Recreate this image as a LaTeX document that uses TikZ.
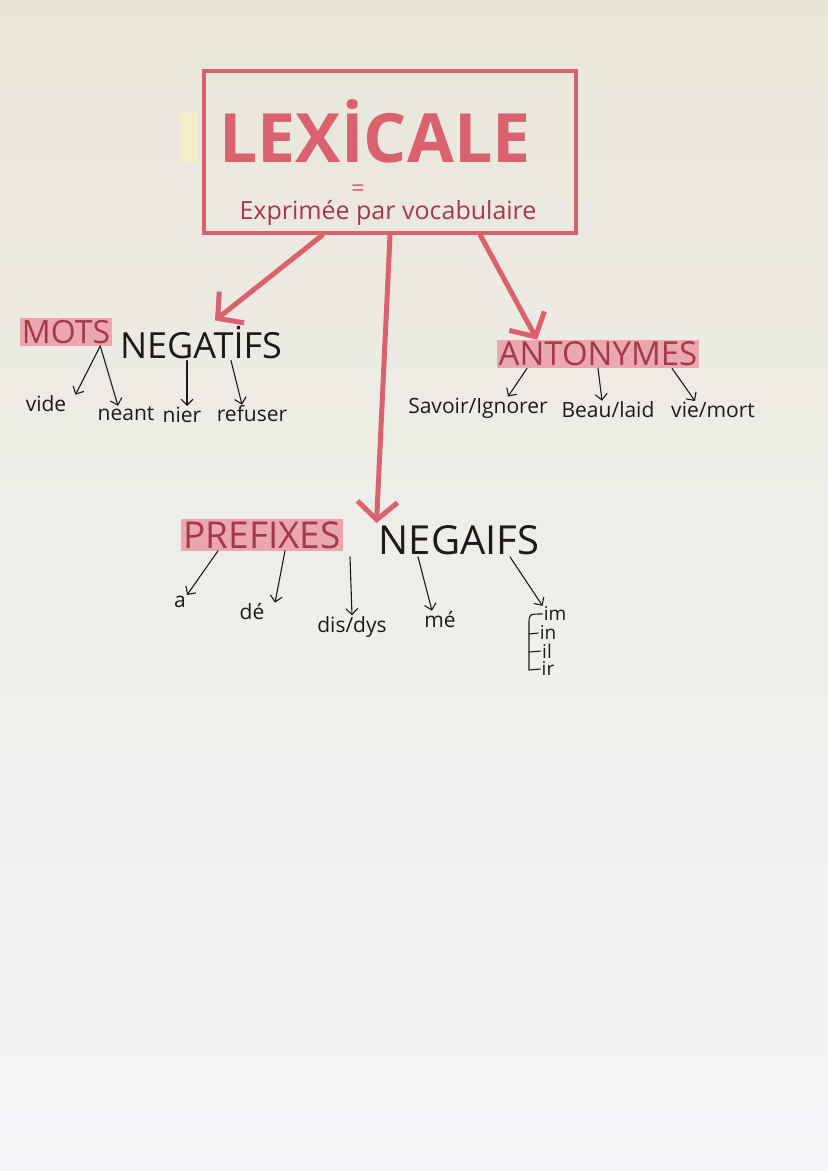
\documentclass[tikz,border=0pt]{standalone}
\usepackage{fontspec}
\setmainfont{Open Sans}
\usepackage{tikz}
\usetikzlibrary{arrows.meta,calc,backgrounds}

\definecolor{stylo}{HTML}{D9626E}
\definecolor{surligne}{HTML}{ECA7AE}
\definecolor{bordeaux}{HTML}{A23A4A}
\definecolor{encre}{HTML}{1E1A1C}
\definecolor{papierhaut}{HTML}{E9E6D9}
\definecolor{papiermilieu}{HTML}{F6F6F3}
\definecolor{papierbas}{HTML}{F4F6F9}
\definecolor{postit}{HTML}{F2EEC8}

\tikzset{
  grosse/.style={draw=stylo, line width=5pt, line cap=round,
    -{Straight Barb[length=18pt,width=40pt]}},
  petite/.style={draw=encre, line width=1.1pt, line cap=round,
    -{Straight Barb[length=6pt,width=12pt]}},
  mot/.style={text=encre, inner sep=1pt, font=\fontsize{21}{23}\selectfont},
  titre/.style={text=encre, inner sep=2pt},
  surl/.style={fill=surligne, text=bordeaux, inner sep=2pt},
}

\begin{document}
\begin{tikzpicture}[x=1pt,y=-1pt]
\fill[top color=papierhaut, middle color=papiermilieu, bottom color=papierbas] (0,0) rectangle (828,1171);
\useasboundingbox (0,0) rectangle (828,1171);
\fill[postit] (180,113) rectangle (198,162);

% le cadre
\node[draw=stylo, line width=4.5pt, minimum width=372pt, minimum height=162pt] (lexbox) at (390,152) {};
\node[text=stylo, inner sep=0pt, font=\fontsize{68}{68}\selectfont\bfseries] (lex) at (375,131) {LEXİCALE};
\node[text=stylo, inner sep=0pt, font=\fontsize{24}{26}\selectfont] (egal) at (358,191) {=};
\node[text=bordeaux, inner sep=0pt, font=\fontsize{25}{28}\selectfont] (expr) at (388,213) {Exprimée par vocabulaire};

% les trois branches
\node[surl, font=\fontsize{32}{34}\selectfont] (mots) at (66,332) {MOTS};
\node[titre, font=\fontsize{36}{38}\selectfont] (motsneg) at (201,342) {NEGATİFS};
\node[surl, font=\fontsize{33}{35}\selectfont] (anto) at (598,354) {ANTONYMES};
\node[surl, font=\fontsize{37}{39}\selectfont] (pref) at (262,535) {PREFIXES};
\node[titre, font=\fontsize{40}{42}\selectfont] (preneg) at (459,540) {NEGAIFS};

\draw[grosse] ($(lexbox.south west)!0.32!(lexbox.south east)$) -- ([xshift=14pt,yshift=3pt]motsneg.north);
\draw[grosse] ($(lexbox.south west)!0.5!(lexbox.south east)$) -- (preneg.north west);
\draw[grosse] ($(lexbox.south west)!0.74!(lexbox.south east)$) -- ($(anto.north west)!0.2!(anto.north east)$);

% mots negatifs
\node[mot] (vide) at (46,404) {vide};
\node[mot] (neant) at (126,414) {neant};
\node[mot] (nier) at (182,415) {nier};
\node[mot] (refuser) at (252,414) {refuser};
\draw[petite] ([xshift=-12pt]mots.south east) -- ([xshift=8pt]vide.north east);
\draw[petite] ([xshift=-12pt]mots.south east) -- ([xshift=-8pt]neant.north);
\draw[petite] ([xshift=-14pt]motsneg.south) -- ([xshift=5pt]nier.north);
\draw[petite] ([xshift=30pt]motsneg.south) -- ([xshift=-10pt]refuser.north);

% antonymes
\node[mot] (savoir) at (478,408) {Savoir/Ignorer};
\node[mot] (beau) at (608,410) {Beau/laid};
\node[mot] (viemort) at (713,410) {vie/mort};
\draw[petite] ([xshift=-71pt]anto.south) -- ([xshift=30pt]savoir.north);
\draw[petite] (anto.south) -- ([xshift=-6pt]beau.north);
\draw[petite] ([xshift=74pt]anto.south) -- ([xshift=-18pt]viemort.north);

% prefixes negatifs
\node[mot] (a) at (180,602) {a};
\node[mot] (de) at (252,612) {dé};
\node[mot] (dis) at (352,627) {dis/dys};
\node[mot] (me) at (440,620) {mé};
\node[mot, font=\fontsize{19}{20}\selectfont] (im) at (555,614) {im};
\node[mot, font=\fontsize{19}{20}\selectfont] (in) at (548,633) {in};
\node[mot, font=\fontsize{19}{20}\selectfont] (il) at (547,651) {il};
\node[mot, font=\fontsize{19}{20}\selectfont] (ir) at (548,669) {ir};
\draw[petite] ([xshift=-44pt]pref.south) -- (a.north east);
\draw[petite] ([xshift=23pt]pref.south) -- ([xshift=23pt]de.north);
\draw[petite] ([xshift=-109pt]preneg.south) -- (dis.north);
\draw[petite] ([xshift=-41pt]preneg.south) -- ([xshift=-8pt]me.north);
\draw[petite] ([xshift=51pt]preneg.south) -- (im.north west);
\draw[encre, line width=1.1pt] (im.west) .. controls (529,614) .. (529,624) -- (529,670) -- (ir.west);
\draw[encre, line width=1.1pt] (529,634) -- (in.west);
\draw[encre, line width=1.1pt] (529,652) -- (il.west);
\end{tikzpicture}
\end{document}
